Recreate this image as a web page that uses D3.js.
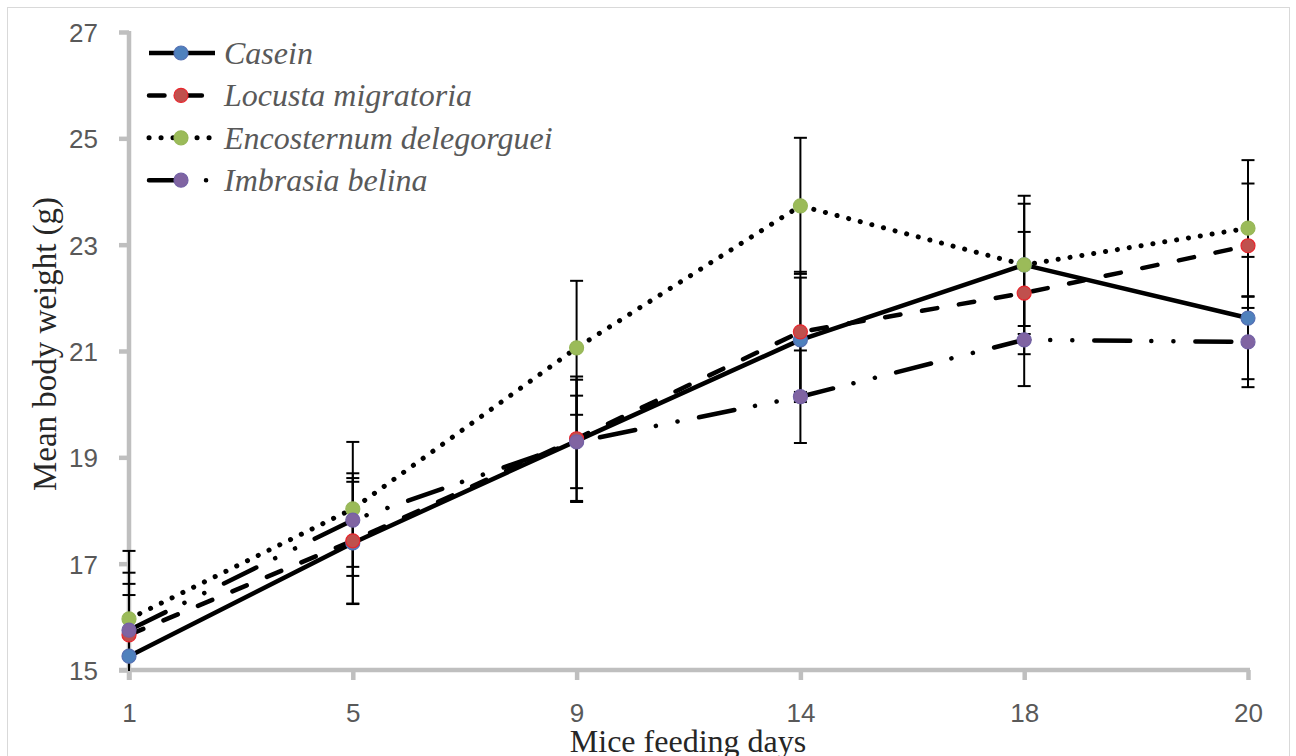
<!DOCTYPE html>
<html>
<head>
<meta charset="utf-8">
<script src="https://cdn.jsdelivr.net/npm/d3@7"></script>
<style>
  html, body { margin: 0; padding: 0; background: #ffffff; }
  svg { display: block; }
</style>
</head>
<body>
<svg id="chart" width="1296" height="756"></svg>
<script>
// ---- data ----
const days = ["1", "5", "9", "14", "18", "20"];
const seriesNames = ["Casein", "Locusta migratoria", "Encosternum delegorguei", "Imbrasia belina"];
const casein      = [15.26, 17.39, 19.31, 21.21, 22.62, 21.62];
const locusta     = [15.66, 17.43, 19.35, 21.36, 22.09, 22.98];
const encosternum = [15.96, 18.03, 21.06, 23.73, 22.62, 23.31];
const imbrasia    = [15.75, 17.82, 19.29, 20.14, 21.21, 21.17];
const caseinErr      = [1.15, 1.15, 1.15, 1.17, 1.15, 1.15];
const locustaErr     = [1.17, 1.18, 1.17, 1.13, 1.15, 1.17];
const encosternumErr = [1.28, 1.26, 1.26, 1.28, 1.30, 1.28];
const imbrasiaErr    = [0.87, 0.88, 0.87, 0.87, 0.87, 0.85];
const yTicks = [15, 17, 19, 21, 23, 25, 27];
const yTitle = "Mean body weight (g)";
const xTitle = "Mice feeding days";

// ---- styles ----
const styles = [
  { fill: "#4f81bd", stroke: "#5470b4", dash: null, offset: 0, width: 4.5 },
  { fill: "#c0504d", stroke: "#e8262d", dash: "15.5,21.9", offset: 0, width: 4.5 },
  { fill: "#9bbb59", stroke: "#97b758", dash: "0.1,11.9", offset: 0, width: 5 },
  { fill: "#8064a2", stroke: "#7462a6", dash: "36,21,0.1,22,0.1,21.9", offset: -4.75, width: 4.5 }
];
const series = [
  { name: seriesNames[0], values: casein, err: caseinErr },
  { name: seriesNames[1], values: locusta, err: locustaErr },
  { name: seriesNames[2], values: encosternum, err: encosternumErr },
  { name: seriesNames[3], values: imbrasia, err: imbrasiaErr }
];

const svg = d3.select("#chart");
const pLeft = 129, pRight = 1248, pTop = 32, pBottom = 670;

const x = d3.scalePoint().domain(days).range([pLeft, pRight]);
const y = d3.scaleLinear().domain([15, 27]).range([pBottom, pTop]);

// outer border
svg.append("rect").attr("x", 7.5).attr("y", 7.5).attr("width", 1282).attr("height", 760)
  .attr("fill", "none").attr("stroke", "#d9d9d9").attr("stroke-width", 1);

// clip for plot area
svg.append("defs").append("clipPath").attr("id", "plotclip")
  .append("rect").attr("x", 0).attr("y", pTop - 20).attr("width", 1296).attr("height", pBottom - pTop + 21);

// axes
const gray = "#bfbfbf";
const yAxis = d3.axisLeft(y).tickValues(yTicks).tickSize(10).tickPadding(21).tickFormat(d3.format("d"));
const gy = svg.append("g").attr("transform", `translate(${pLeft},0)`).call(yAxis);
gy.select(".domain").attr("stroke", gray).attr("stroke-width", 4.5)
  .attr("d", `M0,${pTop - 1}V${pBottom + 10}`);
gy.selectAll(".tick line").attr("stroke", gray).attr("stroke-width", 4.5);
gy.selectAll(".tick text").attr("fill", "#595959")
  .style("font-family", "'Liberation Sans', Arial, sans-serif").style("font-size", "26px")
  .attr("dy", null).attr("y", 9.5);

const xAxis = d3.axisBottom(x).tickSize(10).tickPadding(0);
const gx = svg.append("g").attr("transform", `translate(0,${pBottom})`).call(xAxis);
gx.select(".domain").attr("stroke", gray).attr("stroke-width", 4.5)
  .attr("d", `M${pLeft - 10},0H${pRight + 2}`);
gx.selectAll(".tick line").attr("stroke", gray).attr("stroke-width", 4.5);
gx.selectAll(".tick text").attr("fill", "#595959")
  .style("font-family", "'Liberation Sans', Arial, sans-serif").style("font-size", "26px")
  .attr("dy", null).attr("y", 52);

// lines
const line = d3.line().x((d, i) => x(days[i])).y(d => y(d));
const gLines = svg.append("g");
series.forEach((s, k) => {
  const st = styles[k];
  const p = gLines.append("path").attr("d", line(s.values))
    .attr("fill", "none").attr("stroke", "#000").attr("stroke-width", st.width)
    .attr("stroke-linejoin", "round");
  if (st.dash) {
    p.attr("stroke-dasharray", st.dash).attr("stroke-dashoffset", st.offset).attr("stroke-linecap", "round");
  }
});

// error bars
const gErr = svg.append("g").attr("clip-path", "url(#plotclip)");
series.forEach((s) => {
  s.values.forEach((v, i) => {
    const cx = x(days[i]);
    const y1 = y(v + s.err[i]), y2 = y(v - s.err[i]);
    gErr.append("line").attr("x1", cx).attr("x2", cx).attr("y1", y1).attr("y2", y2)
      .attr("stroke", "#000").attr("stroke-width", 2);
    [y1, y2].forEach(yy => {
      gErr.append("line").attr("x1", cx - 6.5).attr("x2", cx + 6.5).attr("y1", yy).attr("y2", yy)
        .attr("stroke", "#000").attr("stroke-width", 2);
    });
  });
});

// markers
const gMark = svg.append("g");
series.forEach((s, k) => {
  const st = styles[k];
  gMark.selectAll(null).data(s.values).enter().append("circle")
    .attr("cx", (d, i) => x(days[i])).attr("cy", d => y(d)).attr("r", 7)
    .attr("fill", st.fill).attr("stroke", st.stroke).attr("stroke-width", 1.2);
});

// legend
const legY0 = 53, legStep = 42.4;
const gLeg = svg.append("g");
series.forEach((s, k) => {
  const st = styles[k];
  const ly = legY0 + k * legStep;
  const l = gLeg.append("line").attr("x1", 149).attr("x2", 215).attr("y1", ly).attr("y2", ly)
    .attr("stroke", "#000").attr("stroke-width", st.width);
  if (st.dash) l.attr("stroke-dasharray", st.dash).attr("stroke-linecap", "round");
  gLeg.append("circle").attr("cx", 181).attr("cy", ly).attr("r", 7)
    .attr("fill", st.fill).attr("stroke", st.stroke).attr("stroke-width", 1.2);
  gLeg.append("text").attr("x", 224).attr("y", ly + 11)
    .attr("fill", "#595959")
    .style("font-family", "'Liberation Serif', 'Times New Roman', serif")
    .style("font-style", "italic").style("font-size", "32px")
    .text(s.name);
});

// axis titles
svg.append("text").attr("transform", "translate(56,344) rotate(-90)")
  .attr("text-anchor", "middle").attr("fill", "#262626")
  .style("font-family", "'Liberation Serif', 'Times New Roman', serif").style("font-size", "33px")
  .text(yTitle);
svg.append("text").attr("x", 688).attr("y", 752)
  .attr("text-anchor", "middle").attr("fill", "#262626")
  .style("font-family", "'Liberation Serif', 'Times New Roman', serif").style("font-size", "32px")
  .text(xTitle);
</script>
</body>
</html>
